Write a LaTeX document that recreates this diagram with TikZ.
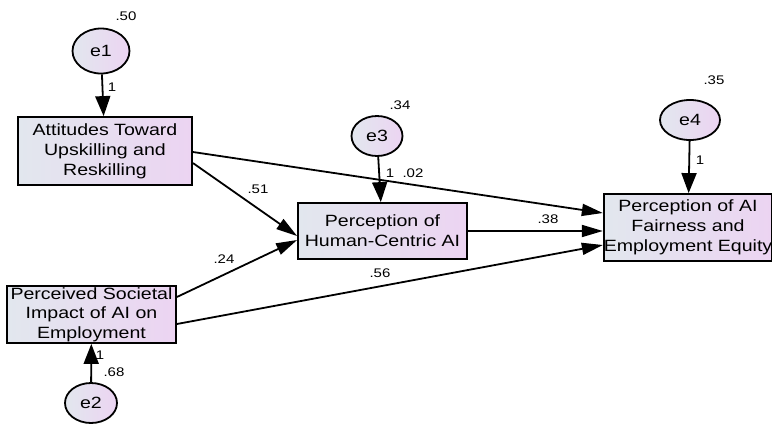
\documentclass[tikz,border=0pt]{standalone}
\usepackage{fontspec}
\setmainfont{Liberation Sans}[FakeStretch=1.2]
\usetikzlibrary{arrows.meta,shapes.geometric,calc}
\definecolor{fillL}{HTML}{E2E7EE}
\definecolor{fillR}{HTML}{ECD4F2}
\begin{document}
\begin{tikzpicture}[x=1pt,y=-1pt,
  box/.style={draw=black,line width=1.8pt,rectangle,inner sep=0pt,align=center,
    left color=fillL,right color=fillR,
    font=\fontsize{16.3}{20}\selectfont},
  err/.style={draw=black,line width=1.8pt,ellipse,inner sep=0pt,
    shading=axis,shading angle=-45,left color=fillL,right color=fillR,
    font=\fontsize{16.3}{20}\selectfont},
  lab/.style={inner sep=0pt,font=\fontsize{12.5}{14}\selectfont},
  harr/.style={line width=1.8pt,-{Triangle[length=21pt,width=12pt]}},
  varr/.style={line width=1.8pt,-{Triangle[length=20pt,width=15pt]}}]
\useasboundingbox (0,0) rectangle (772,424);

% boxes
\node[box,minimum width=174pt,minimum height=68pt] (b1) at (105,151)
  {Attitudes Toward\\Upskilling and\\Reskilling};
\node[box,minimum width=169pt,minimum height=56pt] (b2) at (382.5,231)
  {Perception of\\Human-Centric AI};
\node[box,minimum width=166pt,minimum height=67pt] (b3) at (688,227.5)
  {Perception of AI\\Fairness and\\Employment Equity};
\node[box,minimum width=169pt,minimum height=57pt,font=\fontsize{16.3}{19.5}\selectfont] (b4) at (91.5,314.5)
  {Perceived Societal\\Impact of AI on\\Employment};

% error terms
\node[err,minimum width=57pt,minimum height=45pt] (e1) at (101,51) {e1};
\node[err,minimum width=51pt,minimum height=40pt] (e3) at (377,136) {e3};
\node[err,minimum width=60pt,minimum height=40pt] (e4) at (690,120) {e4};
\node[err,minimum width=52pt,minimum height=40pt] (e2) at (91,403) {e2};

% error arrows
\draw[varr] (e1) -- (b1);
\draw[varr] (e3) -- (b2);
\draw[varr] (e4) -- (b3);
\draw[varr] (e2) -- (b4);

% structural paths
\draw[harr] ($(b1.east)+(0,1)$) -- ($(b3.west)+(0,-14.5)$);
\draw[harr] ($(b1.east)+(0,12)$) -- ($(b2.west)+(0,5)$);
\draw[harr] ($(b4.east)+(0,-17.5)$) -- ($(b2.west)+(0,9)$);
\draw[harr] ($(b4.east)+(0,9.5)$) -- ($(b3.west)+(0,17.5)$);
\draw[harr] (b2.east) -- (b2.east -| b3.west);

% labels
\node[lab] (l50) at (126,16) {.50};
\node[lab] (l1a) at (112,87) {1};
\node[lab] (l34) at (400,105) {.34};
\node[lab] (l1c) at (390,173) {1};
\node[lab] (l02) at (413,173) {.02};
\node[lab] (l35) at (714,80) {.35};
\node[lab] (l1d) at (700,160) {1};
\node[lab] (l68) at (114,372) {.68};
\node[lab] (l1b) at (100,355) {1};
\node[lab] (l51) at (258,189) {.51};
\node[lab] (l24) at (224,259) {.24};
\node[lab] (l56) at (380,273) {.56};
\node[lab] (l38) at (548,219) {.38};
\end{tikzpicture}
\end{document}
